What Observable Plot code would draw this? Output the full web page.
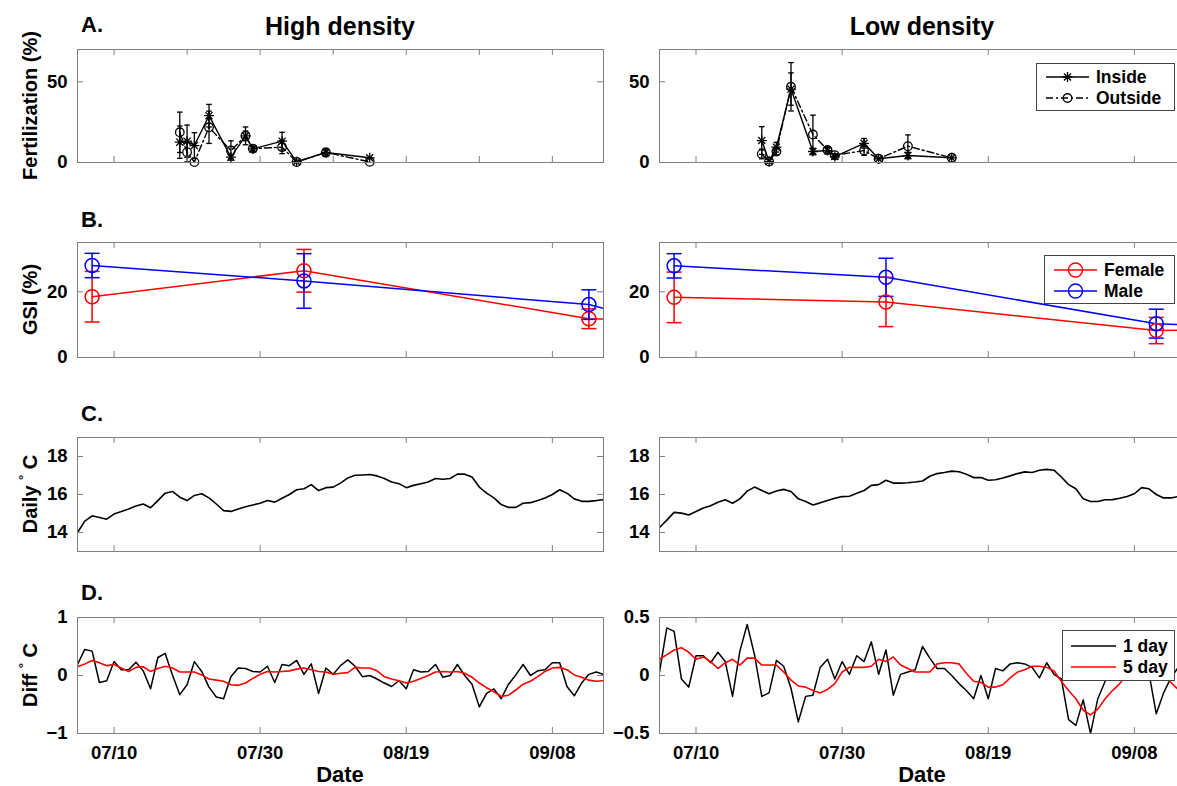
<!DOCTYPE html>
<html><head><meta charset="utf-8">
<script src="https://cdn.jsdelivr.net/npm/d3@7"></script>
<script src="https://cdn.jsdelivr.net/npm/@observablehq/plot@0.6"></script>
<style>
html,body{margin:0;padding:0;background:#fff;overflow:hidden}
#fig{position:relative;width:1177px;height:786px;overflow:hidden;font-family:"Liberation Sans",Arial,Helvetica,sans-serif;font-weight:bold;color:#000;background:#fff}
.legend{position:absolute;background:#fff;border:1px solid #444;font-size:17.5px;box-sizing:border-box}
.legend .row{position:absolute;left:0;height:0}
.legend svg{position:absolute;overflow:visible}
.legend span{position:absolute;line-height:20px;top:-10px;white-space:nowrap}
</style></head><body><div id="fig"></div>
<script>
// ---------------- DATA ----------------
const year = 2010;
const startMonthDay = "07/05";          // day 0 of the daily series
const endMonthDay = "09/15";            // right edge of every panel
const xTickLabels = ["07/10", "07/30", "08/19", "09/08"];
const xTickLabelsFineA = ["07/10", "07/20", "07/30", "08/09", "08/19", "08/29", "09/08"];

// A. Fertilization (%) — day offsets from 07/05
const fertDays = [14, 15, 16, 18, 21, 23, 24, 28, 30, 34, 40];
const fertHighInside     = [12.6, 13.2, 10.5, 29.0, 3.3, 16.5, 8.4, 13.2, 0.5, 6.2, 2.9];
const fertHighInsideErr  = [10, 10, 8, 7, 1, 5.5, 1.5, 5.5, 0, 2.5, 0];
const fertHighOutside    = [18.7, 6.4, 0.3, 21.8, 7.4, 16.5, 8.6, 9.5, 0.3, 6.2, 0.4];
const fertHighOutsideErr = [12.5, 6, 0, 10, 6, 3, 1.5, 4, 0, 2, 0];
const fertLowInside      = [13.6, 0.6, 9.5, 45.5, 6.8, 7.4, 3.7, 11.9, 2.3, 4.3, 2.9];
const fertLowInsideErr   = [8.6, 0, 3, 10, 2, 2, 1, 3, 0, 2, 0];
const fertLowOutside     = [5.3, 0.6, 6.8, 46.9, 17.3, 7.7, 4.5, 7.4, 2.3, 10.1, 2.9];
const fertLowOutsideErr  = [3, 0, 2, 15, 12, 2, 1, 3, 0, 7, 0];

// B. GSI (%)
const gsiHighDays = [2, 31, 70, 80];
const gsiHighFemale    = [18.5, 26.4, 11.8, 11.2];
const gsiHighFemaleErr = [7.7, 6.5, 3, 0];
const gsiHighMale      = [28.0, 23.3, 16.1, 10.5];
const gsiHighMaleErr   = [3.7, 8.3, 4.5, 0];
const gsiLowDays = [2, 31, 68, 80];
const gsiLowFemale     = [18.3, 16.9, 8.2, 8.6];
const gsiLowFemaleErr  = [7.7, 7.5, 4, 0];
const gsiLowMale       = [27.9, 24.4, 10.3, 9.2];
const gsiLowMaleErr    = [3.7, 5.8, 4.4, 0];

// C. Daily temperature (°C), one value per day from 07/05
const tempHigh = [14.0, 14.6, 14.88, 14.79, 14.7, 14.97, 15.1, 15.24, 15.4, 15.5,
  15.3, 15.68, 16.07, 16.16, 15.86, 15.68, 15.95, 16.04, 15.82, 15.5,
  15.15, 15.11, 15.24, 15.36, 15.45, 15.54, 15.68, 15.6, 15.8, 16.0,
  16.25, 16.3, 16.52, 16.21, 16.36, 16.39, 16.6, 16.87, 17.01, 17.03,
  17.05, 16.98, 16.84, 16.66, 16.57, 16.36, 16.48, 16.57, 16.66, 16.84,
  16.8, 16.84, 17.07, 17.07, 16.92, 16.39, 16.07, 15.82, 15.47, 15.32,
  15.32, 15.54, 15.57, 15.68, 15.82, 16.0, 16.25, 16.07, 15.77, 15.64,
  15.64, 15.68, 15.73];
const tempLow = [14.26, 14.65, 15.06, 15.02, 14.92, 15.11, 15.29, 15.41, 15.59, 15.72,
  15.54, 15.77, 16.18, 16.39, 16.21, 16.04, 16.18, 16.27, 16.16, 15.77,
  15.63, 15.45, 15.56, 15.68, 15.8, 15.89, 15.91, 16.07, 16.21, 16.48,
  16.52, 16.75, 16.6, 16.6, 16.62, 16.66, 16.71, 16.96, 17.1, 17.16,
  17.23, 17.2, 17.07, 16.89, 16.89, 16.75, 16.78, 16.87, 16.98, 17.1,
  17.19, 17.16, 17.28, 17.32, 17.28, 16.92, 16.52, 16.3, 15.77, 15.63,
  15.63, 15.72, 15.73, 15.8, 15.89, 16.04, 16.36, 16.3, 16.0, 15.82,
  15.82, 15.89, 15.9];

// D. Temperature difference (°C): 1-day and 5-day
const diffHigh1 = [0.19, 0.45, 0.42, -0.12, -0.09, 0.24, 0.10, 0.10, 0.23, 0.08,
  -0.23, 0.31, 0.38, 0.01, -0.33, -0.16, 0.24, 0.07, -0.2, -0.37,
  -0.40, -0.02, 0.13, 0.12, 0.07, 0.06, 0.16, -0.12, 0.19, 0.17,
  0.26, 0.02, 0.2, -0.31, 0.13, 0.02, 0.17, 0.27, 0.16, -0.02,
  0, -0.06, -0.13, -0.19, -0.09, -0.23, 0.1, 0.06, 0.07, 0.19,
  -0.03, 0, 0.19, 0, -0.15, -0.54, -0.31, -0.23, -0.4, -0.15,
  0.01, 0.19, 0, 0.08, 0.1, 0.22, 0.22, -0.19, -0.35, -0.13,
  0.02, 0.06, 0.02];
const diffHigh5 = [0.15, 0.2, 0.26, 0.22, 0.17, 0.19, 0.13, 0.07, 0.14, 0.15,
  0.07, 0.12, 0.16, 0.13, 0.06, 0.06, 0.06, 0.01, -0.06, -0.08,
  -0.1, -0.16, -0.17, -0.13, -0.05, 0.02, 0.07, 0.06, 0.07, 0.08,
  0.11, 0.13, 0.1, 0.07, 0.06, 0.02, 0.04, 0.05, 0.14, 0.13,
  0.13, 0.08, -0.02, -0.06, -0.09, -0.13, -0.1, -0.05, 0, 0.06,
  0.07, 0.06, 0.07, 0.04, -0.03, -0.13, -0.21, -0.28, -0.36, -0.34,
  -0.25, -0.15, -0.1, -0.02, 0.07, 0.13, 0.14, 0.1, 0.01, -0.03,
  -0.08, -0.1, -0.09];
const diffLow1 = [0.03, 0.41, 0.38, -0.03, -0.1, 0.17, 0.17, 0.11, 0.2, 0.12,
  -0.18, 0.21, 0.44, 0.18, -0.18, -0.15, 0.13, 0.08, -0.11, -0.4,
  -0.18, -0.17, 0.07, 0.14, -0.03, 0.12, 0.01, 0.17, 0.12, 0.29,
  0.01, 0.22, -0.17, 0.01, 0.03, 0.05, 0.25, 0.15, 0.06, 0.06,
  0, -0.07, -0.13, -0.2, 0, -0.2, 0.06, 0.04, 0.1, 0.11,
  0.1, 0.07, -0.02, 0.11, 0.01, -0.03, -0.38, -0.43, -0.21, -0.5,
  -0.2, -0.05, 0.1, 0.15, 0.05, 0.18, 0.1, 0.02, -0.33, -0.15,
  -0.02, 0.07, 0.08];
const diffLow5 = [0.14, 0.18, 0.22, 0.24, 0.2, 0.14, 0.16, 0.12, 0.06, 0.11,
  0.14, 0.09, 0.15, 0.15, 0.09, 0.09, 0.09, 0.03, -0.04, -0.09,
  -0.1, -0.13, -0.15, -0.12, -0.07, 0.03, 0.07, 0.07, 0.07, 0.08,
  0.14, 0.12, 0.16, 0.09, 0.06, 0.03, 0.03, 0.03, 0.1, 0.11,
  0.11, 0.1, 0.02, -0.05, -0.06, -0.1, -0.1, -0.08, -0.02, 0.03,
  0.05, 0.08, 0.08, 0.07, 0.04, -0.05, -0.13, -0.2, -0.3, -0.34,
  -0.29, -0.2, -0.13, -0.07, 0.01, 0.05, 0.08, 0.08, 0.05, 0.0,
  -0.06, -0.12, -0.14];

const yTicksA = [0, 50], yDomainA = [0, 70];
const yTicksB = [0, 20], yDomainB = [0, 35];
const yTicksC = [14, 16, 18], yDomainC = [13, 19];
const yTicksDHigh = [-1, 0, 1], yDomainDHigh = [-1, 1];
const yTicksDLow = [-0.5, 0, 0.5], yDomainDLow = [-0.5, 0.5];

// ---------------- HELPERS ----------------
const FONT = '"Liberation Sans", Arial, Helvetica, sans-serif';
const parseMD = s => { const [m, d] = s.split("/").map(Number); return new Date(Date.UTC(year, m - 1, d)); };
const day0 = parseMD(startMonthDay);
const dayDate = d => new Date(day0.getTime() + d * 864e5);
const xDomain = [day0, parseMD(endMonthDay)];
const fmtMD = d3.utcFormat("%m/%d");
const fmtNum = d => (d < 0 ? "\u2212" + Math.abs(d) : String(d));

const capSymbol = {draw(ctx, size) { const r = Math.sqrt(size / Math.PI); ctx.moveTo(-r, 0); ctx.lineTo(r, 0); }};
const starSymbol = {draw(ctx, size) {
  const r = Math.sqrt(size / Math.PI), q = r * 0.7071;
  ctx.moveTo(-r, 0); ctx.lineTo(r, 0); ctx.moveTo(0, -r); ctx.lineTo(0, r);
  ctx.moveTo(-q, -q); ctx.lineTo(q, q); ctx.moveTo(-q, q); ctx.lineTo(q, -q);
}};

const rowsOf = (days, vals, errs) => days.map((d, i) => ({date: dayDate(d), v: vals[i], e: errs ? errs[i] : 0}));
const seriesOf = vals => vals.map((v, i) => ({date: dayDate(i), v}));

function errMarks(rows, color, capR, sw) {
  const w = rows.filter(d => d.e > 0);
  return [
    Plot.ruleX(w, {x: "date", y1: d => d.v - d.e, y2: d => d.v + d.e, stroke: color, strokeWidth: sw, clip: true}),
    Plot.dot(w, {x: "date", y: d => d.v + d.e, symbol: capSymbol, r: capR, stroke: color, fill: "none", strokeWidth: sw, clip: true}),
    Plot.dot(w, {x: "date", y: d => d.v - d.e, symbol: capSymbol, r: capR, stroke: color, fill: "none", strokeWidth: sw, clip: true})
  ];
}

const fig = document.getElementById("fig");
const FRAME = "#808080";

function panel({left, top, w, h, yDomain, yTicks, xTicks, xLabels, marks}) {
  const mL = 70, mR = 14, mT = 10, mB = xLabels ? 40 : 10;
  const svg = Plot.plot({
    width: w + mL + mR, height: h + mT + mB,
    marginLeft: mL, marginRight: mR, marginTop: mT, marginBottom: mB,
    style: {fontFamily: FONT, fontSize: "18.5px", fontWeight: "bold", color: "#000", background: "transparent", overflow: "visible"},
    x: {type: "utc", domain: xDomain},
    y: {domain: yDomain},
    marks: [
      ...marks,
      Plot.frame({stroke: FRAME, strokeWidth: 1}),
      Plot.tickX(xTicks, {x: d => d, insetTop: h - 6, stroke: FRAME}),
      Plot.tickX(xTicks, {x: d => d, insetBottom: h - 6, stroke: FRAME}),
      Plot.tickY(yTicks, {y: d => d, insetRight: w - 6, stroke: FRAME}),
      Plot.tickY(yTicks, {y: d => d, insetLeft: w - 6, stroke: FRAME}),
      Plot.axisY(yTicks, {tickSize: 0, tickPadding: 10, tickFormat: fmtNum, label: null}),
      Plot.axisX(xLabels ? xTicks : [], {tickSize: 0, tickPadding: 12, tickFormat: fmtMD, label: null})
    ]
  });
  svg.style.position = "absolute";
  svg.style.left = (left - mL) + "px";
  svg.style.top = (top - mT) + "px";
  fig.appendChild(svg);
}

// ---------------- LAYOUT ----------------
const colL = 77, colR = 659, W = 526;
const rowA = [49, 113], rowB = [242, 115], rowC = [437, 114], rowD = [617, 116];
const ticksMajor = xTickLabels.map(parseMD);
const ticksFineA = xTickLabelsFineA.map(parseMD);

function fertMarks(ins, insErr, out, outErr) {
  const I = rowsOf(fertDays, ins, insErr), O = rowsOf(fertDays, out, outErr);
  return [
    Plot.line(I, {x: "date", y: "v", stroke: "#000", strokeWidth: 1.4}),
    Plot.line(O, {x: "date", y: "v", stroke: "#000", strokeWidth: 1.4, strokeDasharray: "7,3,2,3"}),
    ...errMarks(I, "#000", 2.8, 1.3),
    ...errMarks(O, "#000", 2.8, 1.3),
    Plot.dot(I, {x: "date", y: "v", symbol: starSymbol, r: 5, stroke: "#000", fill: "none", strokeWidth: 1.3}),
    Plot.dot(O, {x: "date", y: "v", symbol: "circle", r: 4.3, stroke: "#000", fill: "none", strokeWidth: 1.3})
  ];
}
function gsiMarks(days, fem, femErr, male, maleErr) {
  const F = rowsOf(days, fem, femErr), M = rowsOf(days, male, maleErr);
  return [
    Plot.line(F, {x: "date", y: "v", stroke: "#ff0000", strokeWidth: 1.5, clip: true}),
    Plot.line(M, {x: "date", y: "v", stroke: "#0000ff", strokeWidth: 1.5, clip: true}),
    ...errMarks(F, "#ff0000", 7.5, 1.5),
    ...errMarks(M, "#0000ff", 7.5, 1.5),
    Plot.dot(F, {x: "date", y: "v", r: 7, stroke: "#ff0000", fill: "none", strokeWidth: 1.5, clip: true}),
    Plot.dot(M, {x: "date", y: "v", r: 7, stroke: "#0000ff", fill: "none", strokeWidth: 1.5, clip: true})
  ];
}

panel({left: colL, top: rowA[0], w: W, h: rowA[1], yDomain: yDomainA, yTicks: yTicksA, xTicks: ticksFineA, xLabels: false,
  marks: fertMarks(fertHighInside, fertHighInsideErr, fertHighOutside, fertHighOutsideErr)});
panel({left: colR, top: rowA[0], w: W, h: rowA[1], yDomain: yDomainA, yTicks: yTicksA, xTicks: ticksMajor, xLabels: false,
  marks: fertMarks(fertLowInside, fertLowInsideErr, fertLowOutside, fertLowOutsideErr)});

panel({left: colL, top: rowB[0], w: W, h: rowB[1], yDomain: yDomainB, yTicks: yTicksB, xTicks: ticksMajor, xLabels: false,
  marks: gsiMarks(gsiHighDays, gsiHighFemale, gsiHighFemaleErr, gsiHighMale, gsiHighMaleErr)});
panel({left: colR, top: rowB[0], w: W, h: rowB[1], yDomain: yDomainB, yTicks: yTicksB, xTicks: ticksMajor, xLabels: false,
  marks: gsiMarks(gsiLowDays, gsiLowFemale, gsiLowFemaleErr, gsiLowMale, gsiLowMaleErr)});

panel({left: colL, top: rowC[0], w: W, h: rowC[1], yDomain: yDomainC, yTicks: yTicksC, xTicks: ticksMajor, xLabels: false,
  marks: [Plot.line(seriesOf(tempHigh), {x: "date", y: "v", stroke: "#000", strokeWidth: 1.6, clip: true})]});
panel({left: colR, top: rowC[0], w: W, h: rowC[1], yDomain: yDomainC, yTicks: yTicksC, xTicks: ticksMajor, xLabels: false,
  marks: [Plot.line(seriesOf(tempLow), {x: "date", y: "v", stroke: "#000", strokeWidth: 1.6, clip: true})]});

panel({left: colL, top: rowD[0], w: W, h: rowD[1], yDomain: yDomainDHigh, yTicks: yTicksDHigh, xTicks: ticksMajor, xLabels: true,
  marks: [
    Plot.line(seriesOf(diffHigh1), {x: "date", y: "v", stroke: "#000", strokeWidth: 1.5, clip: true}),
    Plot.line(seriesOf(diffHigh5), {x: "date", y: "v", stroke: "#ff0000", strokeWidth: 1.6, clip: true})
  ]});
panel({left: colR, top: rowD[0], w: W, h: rowD[1], yDomain: yDomainDLow, yTicks: yTicksDLow, xTicks: ticksMajor, xLabels: true,
  marks: [
    Plot.line(seriesOf(diffLow1), {x: "date", y: "v", stroke: "#000", strokeWidth: 1.5, clip: true}),
    Plot.line(seriesOf(diffLow5), {x: "date", y: "v", stroke: "#ff0000", strokeWidth: 1.6, clip: true})
  ]});

// ---------------- TEXT ----------------
const NS = "http://www.w3.org/2000/svg";
const over = document.createElementNS(NS, "svg");
over.setAttribute("width", 1177); over.setAttribute("height", 786);
over.style.cssText = "position:absolute;left:0;top:0;pointer-events:none;font-family:" + FONT + ";font-weight:bold";
fig.appendChild(over);
function txt(str, x, y, size, anchor = "start", rot = 0) {
  const t = document.createElementNS(NS, "text");
  t.setAttribute("font-size", size);
  t.setAttribute("text-anchor", anchor);
  t.setAttribute("transform", `translate(${x},${y}) rotate(${rot})`);
  t.textContent = str;
  over.appendChild(t);
  return t;
}
function degLabel(word, x, y) {
  const t = txt("", x, y, 20, "middle", -90);
  t.appendChild(Object.assign(document.createElementNS(NS, "tspan"), {textContent: word + " "}));
  const s = document.createElementNS(NS, "tspan");
  s.setAttribute("font-size", 13); s.setAttribute("dy", -9); s.textContent = "\u00b0";
  t.appendChild(s);
  const c = document.createElementNS(NS, "tspan");
  c.setAttribute("dy", 9); c.textContent = " C";
  t.appendChild(c);
}
txt("High density", colL + W / 2, 35, 25, "middle");
txt("Low density", colR + W / 2, 35, 25, "middle");
txt("A.", 81, 32, 22); txt("B.", 81, 227, 22); txt("C.", 81, 421, 22); txt("D.", 81, 600, 22);
txt("Fertilization (%)", 37, rowA[0] + rowA[1] / 2, 20, "middle", -90);
txt("GSI (%)", 37, rowB[0] + rowB[1] / 2, 20, "middle", -90);
degLabel("Daily", 37, rowC[0] + rowC[1] / 2);
degLabel("Diff", 37, rowD[0] + rowD[1] / 2);
txt("Date", colL + W / 2, 782, 22, "middle");
txt("Date", colR + W / 2, 782, 22, "middle");

// ---------------- LEGENDS ----------------
function legend({left, top, width, height, rows}) {
  const box = document.createElement("div");
  box.className = "legend";
  Object.assign(box.style, {left: left + "px", top: top + "px", width: width + "px", height: height + "px"});
  rows.forEach(r => {
    const row = document.createElement("div");
    row.className = "row"; row.style.top = r.y + "px";
    const s = document.createElementNS(NS, "svg");
    s.setAttribute("width", 60); s.setAttribute("height", 20);
    s.style.left = "0px"; s.style.top = "-10px";
    let inner = `<line x1="${r.x1}" x2="${r.x2}" y1="10" y2="10" stroke="${r.color}" stroke-width="1.5" ${r.dash ? `stroke-dasharray="${r.dash}"` : ""}/>`;
    const cx = (r.x1 + r.x2) / 2;
    if (r.sym === "circle") inner += `<circle cx="${cx}" cy="10" r="${r.r}" fill="none" stroke="${r.color}" stroke-width="1.4"/>`;
    if (r.sym === "star") {
      const q = r.r * 0.7071;
      inner += `<path d="M${cx - r.r},10H${cx + r.r}M${cx},${10 - r.r}V${10 + r.r}M${cx - q},${10 - q}L${cx + q},${10 + q}M${cx - q},${10 + q}L${cx + q},${10 - q}" stroke="${r.color}" stroke-width="1.3" fill="none"/>`;
    }
    s.innerHTML = inner;
    row.appendChild(s);
    const sp = document.createElement("span");
    sp.textContent = r.label; sp.style.left = r.tx + "px";
    row.appendChild(sp);
    box.appendChild(row);
  });
  fig.appendChild(box);
}
legend({left: 1036, top: 63, width: 139, height: 48, rows: [
  {label: "Inside", y: 13, x1: 9, x2: 52, color: "#000", sym: "star", r: 5, tx: 59},
  {label: "Outside", y: 34, x1: 9, x2: 52, color: "#000", dash: "7,3,2,3", sym: "circle", r: 4.3, tx: 59}
]});
legend({left: 1044, top: 255, width: 131, height: 49, rows: [
  {label: "Female", y: 14, x1: 9, x2: 52, color: "#ff0000", sym: "circle", r: 7, tx: 59},
  {label: "Male", y: 35, x1: 9, x2: 52, color: "#0000ff", sym: "circle", r: 7, tx: 59}
]});
legend({left: 1062, top: 630, width: 113, height: 51, rows: [
  {label: "1 day", y: 15, x1: 8, x2: 53, color: "#000", tx: 60},
  {label: "5 day", y: 36, x1: 8, x2: 53, color: "#ff0000", tx: 60}
]});
</script></body></html>
